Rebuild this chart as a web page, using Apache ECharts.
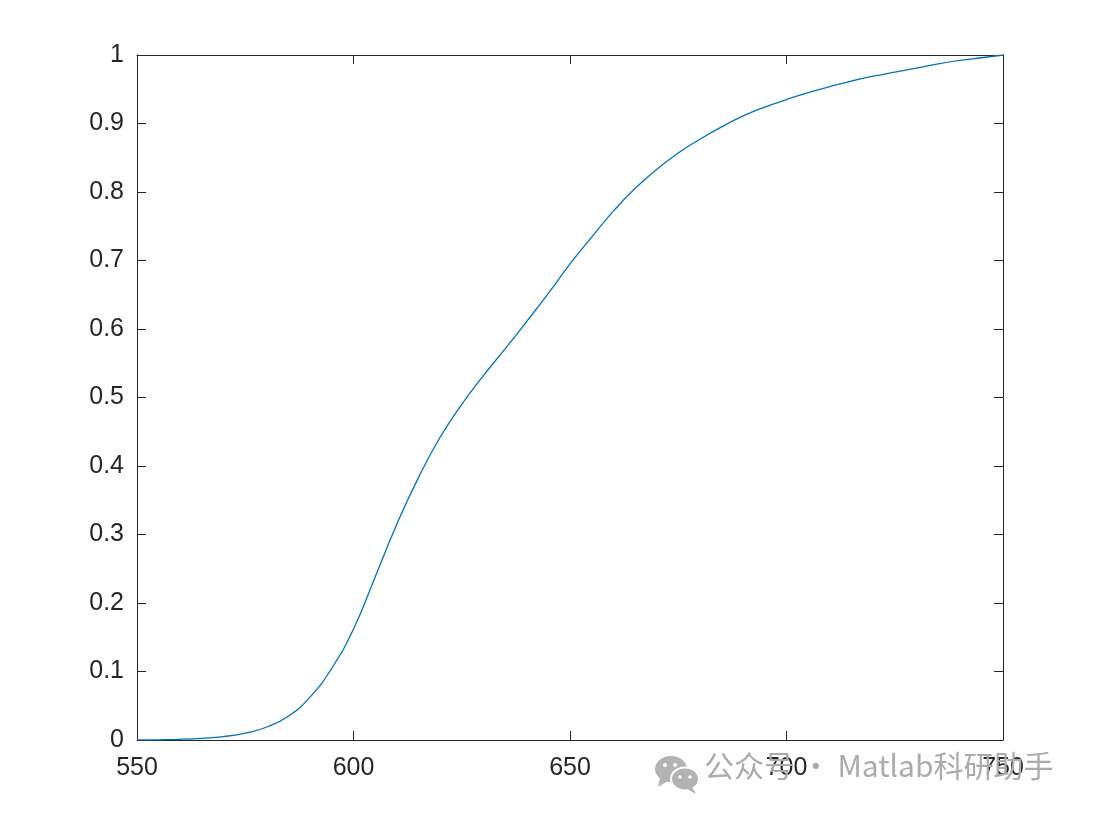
<!DOCTYPE html>
<html>
<head>
<meta charset="utf-8">
<script src="https://cdn.jsdelivr.net/npm/echarts@6/dist/echarts.min.js"></script>
<style>html,body{margin:0;padding:0;background:#fff}#c{width:1095px;height:820px}</style>
</head>
<body>
<div id="c"></div>
<script>
const xValues = [550,555,560,565,570,575,580,585,590,595,600,605,610,615,620,625,630,635,640,645,650,655,660,665,670,675,680,685,690,695,700,705,710,715,720,725,730,735,740,745,750];
const yValues = [0,0.0003,0.001,0.0025,0.005,0.01,0.019,0.035,0.063,0.105,0.162,0.238,0.315,0.383,0.442,0.49,0.532,0.571,0.611,0.652,0.695,0.734,0.772,0.805,0.833,0.857,0.877,0.895,0.911,0.924,0.935,0.945,0.954,0.962,0.969,0.975,0.981,0.987,0.992,0.996,1.0];
const xTicks = [550,600,650,700,750];
const yTicks = [0,0.1,0.2,0.3,0.4,0.5,0.6,0.7,0.8,0.9,1];
const watermark = '公众号 · Matlab科研助手';

const chart = echarts.init(document.getElementById('c'));
const axisCol = '#262626';
const fontFam = 'Liberation Sans, Arial, sans-serif';
const common = {
  axisLine: {show: true, onZero: false, lineStyle: {color: axisCol, width: 1}},
  axisTick: {show: true, inside: true, length: 9, lineStyle: {color: axisCol, width: 1}},
  splitLine: {show: false}
};
chart.setOption({
  animation: false,
  grid: {left: 137, right: 92, top: 55, bottom: 80},
  xAxis: [
    Object.assign({type: 'value', min: 550, max: 750, interval: 50, position: 'bottom',
      axisLabel: {color: axisCol, fontSize: 25, fontFamily: fontFam, margin: 16,
        formatter: v => xTicks.includes(v) ? String(v) : ''}}, common),
    Object.assign({type: 'value', min: 550, max: 750, interval: 50, position: 'top',
      axisLabel: {show: false}}, common)
  ],
  yAxis: [
    Object.assign({type: 'value', min: 0, max: 1, interval: 0.1, position: 'left',
      axisLabel: {color: axisCol, fontSize: 25, fontFamily: fontFam, margin: 13,
        formatter: v => { const t = yTicks.find(k => Math.abs(k - v) < 1e-9); return t === undefined ? '' : String(t); }}}, common),
    Object.assign({type: 'value', min: 0, max: 1, interval: 0.1, position: 'right',
      axisLabel: {show: false}}, common)
  ],
  series: [{
    type: 'line',
    data: xValues.map((x, i) => [x, yValues[i]]),
    smooth: 0.5,
    showSymbol: false,
    lineStyle: {color: '#0072BD', width: 1.3},
    z: 1
  }],
  graphic: [
    {type: 'group', left: 655, top: 756, children: [
      {type: 'ellipse', shape: {cx: 17, cy: 15, rx: 16, ry: 13}, style: {fill: '#b3b3b3'}},
      {type: 'polygon', shape: {points: [[6,24],[4,33],[14,27]]}, style: {fill: '#b3b3b3'}},
      {type: 'ellipse', shape: {cx: 31, cy: 25, rx: 14, ry: 11.5}, style: {fill: '#b3b3b3', stroke: '#fff', lineWidth: 2}},
      {type: 'polygon', shape: {points: [[38,33],[42,40],[33,35]]}, style: {fill: '#b3b3b3'}},
      {type: 'circle', shape: {cx: 11, cy: 11, r: 2}, style: {fill: '#fff'}},
      {type: 'circle', shape: {cx: 21, cy: 11, r: 2}, style: {fill: '#fff'}},
      {type: 'circle', shape: {cx: 26, cy: 23, r: 1.8}, style: {fill: '#fff'}},
      {type: 'circle', shape: {cx: 36, cy: 23, r: 1.8}, style: {fill: '#fff'}}
    ]},
    {type: 'text', left: 704, top: 751, z: 10,
      style: {text: watermark, fill: '#ababab', font: '30px "Noto Sans CJK SC", "Noto Sans", sans-serif'}}
  ]
});
</script>
</body>
</html>
